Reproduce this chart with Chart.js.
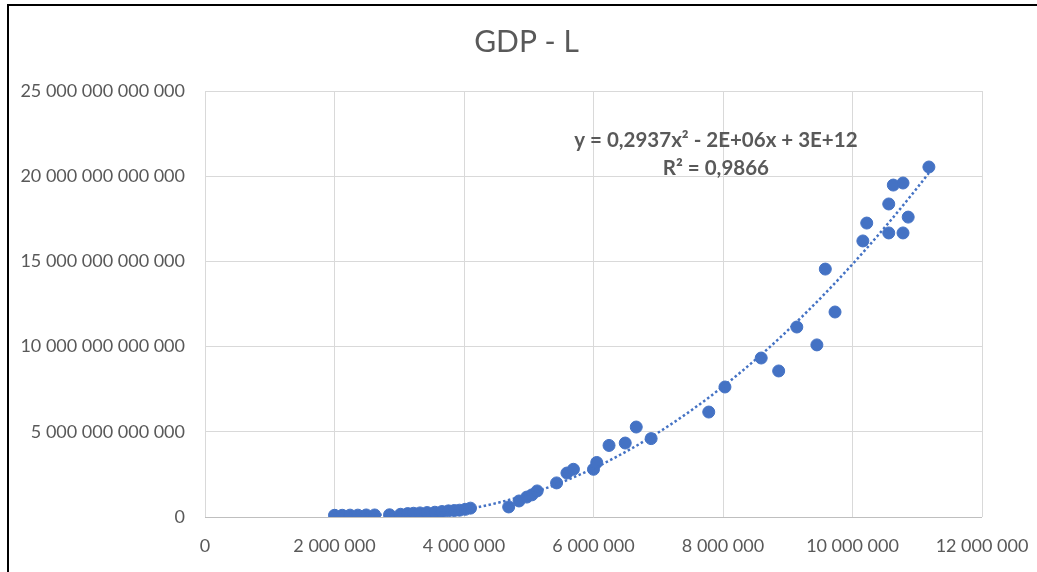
<!DOCTYPE html>
<html>
<head>
<meta charset="utf-8">
<script src="https://cdn.jsdelivr.net/npm/chart.js@4.4.1/dist/chart.umd.min.js"></script>
<style>
  html, body { margin: 0; padding: 0; background: #fff; }
  #wrap { position: absolute; left: 0; top: 0; width: 1037px; height: 572px; }
  #frame { position: absolute; left: 7px; top: 4px; right: -5px; bottom: -5px;
           border-left: 2px solid #000; border-top: 2px solid #000; pointer-events: none; }
</style>
</head>
<body>
<div id="wrap"><canvas id="chart" width="1037" height="572"></canvas></div>
<div id="frame"></div>
<script>
// --- DADOS ---
// L em unidades, GDP em unidades
const labour = [
  2.00e6, 2.12e6, 2.24e6, 2.36e6, 2.49e6, 2.62e6, 2.85e6, 3.02e6, 3.13e6, 3.22e6,
  3.32e6, 3.43e6, 3.55e6, 3.66e6, 3.76e6, 3.85e6, 3.93e6, 4.02e6, 4.10e6,
  4.69e6, 4.85e6, 4.97e6, 5.05e6, 5.13e6, 5.43e6, 5.59e6, 5.69e6, 6.00e6, 6.05e6,
  6.24e6, 6.49e6, 6.66e6, 6.89e6, 7.78e6, 8.03e6, 8.59e6, 8.86e6, 9.14e6, 9.45e6,
  9.58e6, 9.73e6, 10.16e6, 10.22e6, 10.56e6, 10.56e6, 10.63e6, 10.78e6, 10.78e6,
  10.86e6, 11.18e6
];
const gdp = [
  0.10e12, 0.10e12, 0.11e12, 0.11e12, 0.12e12, 0.12e12, 0.13e12, 0.16e12, 0.20e12, 0.22e12,
  0.24e12, 0.26e12, 0.28e12, 0.32e12, 0.36e12, 0.38e12, 0.40e12, 0.45e12, 0.52e12,
  0.59e12, 0.94e12, 1.17e12, 1.30e12, 1.53e12, 2.00e12, 2.58e12, 2.80e12, 2.80e12, 3.20e12,
  4.20e12, 4.34e12, 5.28e12, 4.60e12, 6.16e12, 7.63e12, 9.33e12, 8.57e12, 11.15e12, 10.10e12,
  14.55e12, 12.03e12, 16.20e12, 17.25e12, 16.67e12, 18.37e12, 19.48e12, 19.60e12, 16.67e12,
  17.60e12, 20.54e12
];
const xTicks = [0, 2e6, 4e6, 6e6, 8e6, 10e6, 12e6];
const yTicks = [0, 5e12, 10e12, 15e12, 20e12, 25e12];
const chartTitle = 'GDP - L';
const eqText = ['y = 0,2937x² - 2E+06x + 3E+12', 'R² = 0,9866'];

const BLUE = '#4472C4';
const TXT = '#595959';
const FONT = 'Lato, "Open Sans", sans-serif';

// --- TENDÊNCIA POLINOMIAL (ordem 2, mínimos quadrados) ---
function fitQuadratic(xs, ys) {
  // x em milhões para estabilidade numérica
  let s = [0, 0, 0, 0, 0], t = [0, 0, 0];
  xs.forEach((xv, i) => {
    const x = xv / 1e6, y = ys[i];
    for (let k = 0; k <= 4; k++) s[k] += Math.pow(x, k);
    for (let k = 0; k <= 2; k++) t[k] += y * Math.pow(x, k);
  });
  const m = [[s[0], s[1], s[2], t[0]], [s[1], s[2], s[3], t[1]], [s[2], s[3], s[4], t[2]]];
  for (let i = 0; i < 3; i++) {
    for (let j = i + 1; j < 3; j++) {
      const f = m[j][i] / m[i][i];
      for (let k = i; k < 4; k++) m[j][k] -= f * m[i][k];
    }
  }
  const c = [0, 0, 0];
  for (let i = 2; i >= 0; i--) {
    let v = m[i][3];
    for (let k = i + 1; k < 3; k++) v -= m[i][k] * c[k];
    c[i] = v / m[i][i];
  }
  return x => c[0] + c[1] * (x / 1e6) + c[2] * Math.pow(x / 1e6, 2);
}

const trend = fitQuadratic(labour, gdp);
const xMin = Math.min(...labour), xMax = Math.max(...labour);
const trendPts = [];
for (let i = 0; i <= 80; i++) {
  const x = xMin + (xMax - xMin) * i / 80;
  trendPts.push({ x: x, y: trend(x) });
}

function fmt(v) {
  return Math.round(v).toString().replace(/\B(?=(\d{3})+(?!\d))/g, ' ');
}

// título e texto da equação
const textos = {
  id: 'textos',
  afterDraw(chart) {
    const { ctx, scales } = chart;
    ctx.save();
    ctx.fillStyle = TXT;
    ctx.textAlign = 'center';
    ctx.textBaseline = 'middle';
    ctx.font = '30px ' + FONT;
    ctx.fillText(chartTitle, chart.width / 2 + 8, 42);
    const cx = scales.x.getPixelForValue(7.89e6);
    ctx.font = 'bold 20.5px ' + FONT;
    ctx.fillText(eqText[0], cx, scales.y.getPixelForValue(22.1e12));
    ctx.fillText(eqText[1], cx, scales.y.getPixelForValue(20.45e12));
    ctx.restore();
  }
};

const ctx = document.getElementById('chart').getContext('2d');
const chart = new Chart(ctx, {
  type: 'scatter',
  data: {
    datasets: [{
      label: 'Tendência',
      data: trendPts,
      showLine: true,
      borderColor: BLUE,
      borderWidth: 2.5,
      borderDash: [2.5, 2.5],
      pointRadius: 0,
      fill: false,
      order: 0
    }, {
      label: 'GDP',
      data: labour.map((x, i) => ({ x: x, y: gdp[i] })),
      backgroundColor: BLUE,
      borderColor: BLUE,
      pointRadius: 6,
      pointHoverRadius: 6,
      order: 1
    }]
  },
  options: {
    responsive: false,
    animation: false,
    layout: { padding: { left: 0, right: 55, top: 91, bottom: 0 } },
    plugins: {
      legend: { display: false },
      tooltip: { enabled: false },
      title: { display: false }
    },
    scales: {
      x: {
        type: 'linear',
        min: 0, max: 12e6,
        afterBuildTicks: s => { s.ticks = xTicks.map(v => ({ value: v })); },
        afterFit: s => { s.height = 55; s.paddingLeft = 0; s.paddingRight = 0; },
        grid: { color: '#d9d9d9', drawTicks: false },
        border: { display: false },
        ticks: { color: TXT, padding: 18, font: { family: FONT, size: 18 }, callback: v => fmt(v), maxRotation: 0 }
      },
      y: {
        type: 'linear',
        min: 0, max: 25e12,
        afterBuildTicks: s => { s.ticks = yTicks.map(v => ({ value: v })); },
        afterFit: s => { s.width = 205; s.paddingTop = 0; s.paddingBottom = 0; },
        grid: { color: ctx => ctx.tick && ctx.tick.value === 0 ? '#bfbfbf' : '#d9d9d9', drawTicks: false },
        border: { display: false },
        ticks: { color: TXT, padding: 20, font: { family: FONT, size: 18 }, callback: v => fmt(v) }
      }
    }
  },
  plugins: [textos]
});
</script>
</body>
</html>
